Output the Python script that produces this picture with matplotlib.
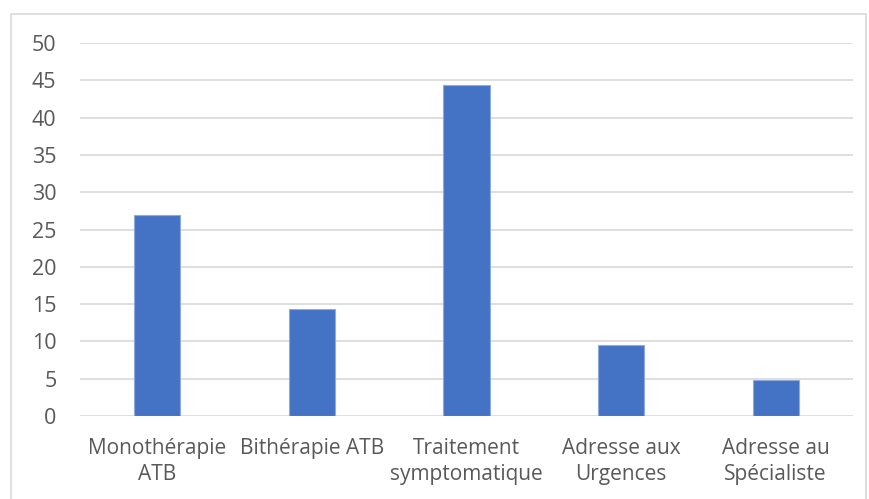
import matplotlib.pyplot as plt
from matplotlib.patches import Rectangle

# Data
categories = ['Monothérapie\nATB', 'Bithérapie ATB', 'Traitement\nsymptomatique',
              'Adresse aux\nUrgences', 'Adresse au\nSpécialiste']
values = [27.0, 14.3, 44.4, 9.5, 4.8]
y_ticks = list(range(0, 55, 5))

plt.rcParams['font.family'] = ['Open Sans', 'DejaVu Sans']
text_color = '#595959'

fig = plt.figure(figsize=(8.69, 4.99), dpi=100)
ax = fig.add_axes([80 / 869, (499 - 416) / 499, (853 - 80) / 869, (416 - 43) / 499])

x = range(len(categories))
ax.bar(x, values, width=0.3, color='#4472C4', edgecolor='#8FAADC', linewidth=0.8, zorder=3)

ax.set_xlim(-0.5, len(categories) - 0.5)
ax.set_ylim(0, 50)
ax.set_yticks(y_ticks)
ax.set_xticks(list(x))
ax.set_xticklabels(categories, fontsize=15, color=text_color, linespacing=1.3)
ax.tick_params(axis='y', labelsize=15.5, colors=text_color, length=0, pad=17)
ax.tick_params(axis='x', length=0, pad=16)

ax.grid(axis='y', color='#D9D9D9', linewidth=1.2, zorder=0)
for s in ax.spines.values():
    s.set_visible(False)

# outer chart border
fig.patches.append(Rectangle((11 / 869, -0.05), (866 - 11) / 869, 1.05 - 14 / 499,
                             transform=fig.transFigure, fill=False,
                             edgecolor='#D9D9D9', linewidth=1.2))

plt.savefig('out.png', dpi=100)
